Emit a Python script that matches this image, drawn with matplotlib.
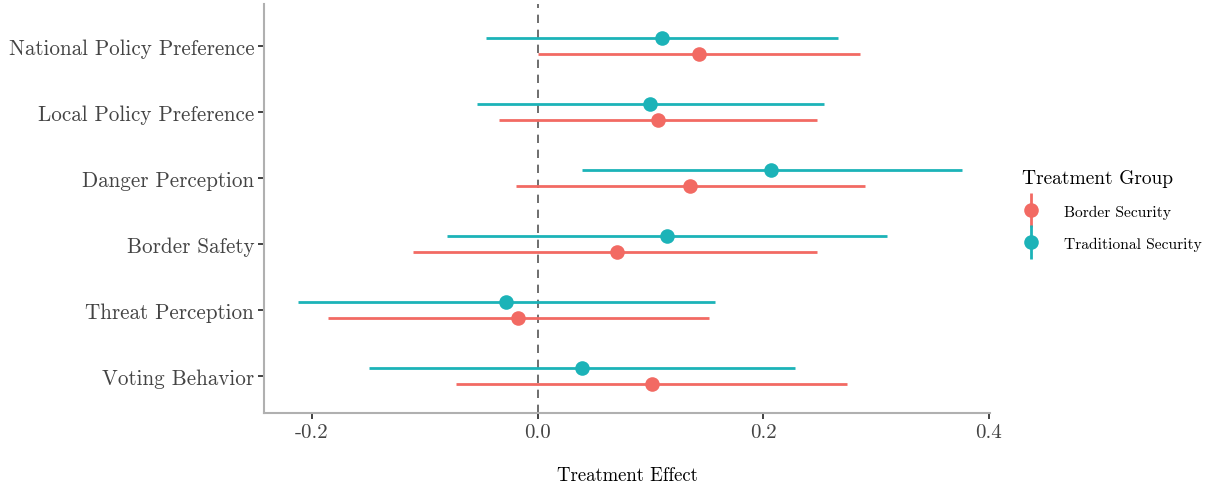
import numpy as np
import matplotlib
matplotlib.use('Agg')
import matplotlib.pyplot as plt
from matplotlib.lines import Line2D
from matplotlib.legend_handler import HandlerTuple

plt.rcParams['font.family'] = ['cmr10', 'DejaVu Serif']
plt.rcParams['axes.unicode_minus'] = False
plt.rcParams['mathtext.fontset'] = 'cm'

# data
outcomes = ['Voting Behavior', 'Threat Perception', 'Border Safety',
            'Danger Perception', 'Local Policy Preference', 'National Policy Preference']
groups = ['Border Security', 'Traditional Security']

border_est = [0.101, -0.017, 0.070, 0.135, 0.107, 0.143]
border_lo = [-0.072, -0.186, -0.110, -0.019, -0.034, 0.000]
border_hi = [0.274, 0.152, 0.248, 0.290, 0.248, 0.286]

trad_est = [0.039, -0.028, 0.115, 0.207, 0.100, 0.110]
trad_lo = [-0.149, -0.212, -0.080, 0.039, -0.054, -0.046]
trad_hi = [0.228, 0.157, 0.310, 0.376, 0.254, 0.266]

xticks = [-0.2, 0.0, 0.2, 0.4]
xticklabels = ['-0.2', '0.0', '0.2', '0.4']

col_border = '#F26A63'
col_trad = '#1CB3B8'

fig = plt.figure(figsize=(12.07, 4.85), dpi=100)
ax = fig.add_axes([0.2187, 0.1464, 0.6015, 0.8433])

y = np.arange(len(outcomes))
dodge = 0.12

ax.axvline(0, color='#555555', lw=1.2, ls=(0, (5, 4)), zorder=1)

for est, lo, hi, col, off in [(border_est, border_lo, border_hi, col_border, -dodge),
                              (trad_est, trad_lo, trad_hi, col_trad, dodge)]:
    est = np.array(est)
    ax.hlines(y + off, lo, hi, color=col, lw=2, zorder=2)
    ax.plot(est, y + off, 'o', color=col, ms=10.5, mec='none', zorder=3)

ax.set_xlim(-0.2425, 0.401)
ax.set_ylim(-0.56, 5.64)
ax.set_yticks(y)
ax.set_yticklabels(outcomes, fontsize=15.2, color='#444444')
ax.set_xticks(xticks)
ax.set_xticklabels(xticklabels, fontsize=15, color='#444444')
ax.set_xlabel('Treatment Effect', fontsize=13.5, labelpad=18)

for s in ['top', 'right']:
    ax.spines[s].set_visible(False)
for s in ['left', 'bottom']:
    ax.spines[s].set_color('#B0B0B0')
    ax.spines[s].set_linewidth(1.5)
ax.tick_params(length=4, width=1.3, color='#333333', pad=3)

handles = []
for col in [col_border, col_trad]:
    vl = Line2D([], [], marker='|', ms=24, mew=2, color=col, ls='none')
    dot = Line2D([], [], marker='o', ms=10.5, color=col, mec='none', ls='none')
    handles.append((vl, dot))

leg = fig.legend(handles, groups, handler_map={tuple: HandlerTuple(ndivide=1)},
                 loc='upper left', bbox_to_anchor=(0.835, 0.679), frameon=False,
                 title='Treatment Group', fontsize=11.2, title_fontsize=14,
                 handlelength=1.2, labelspacing=1.15, handletextpad=1.5)
leg._legend_box.align = 'left'

fig.savefig('out.png', dpi=100)
